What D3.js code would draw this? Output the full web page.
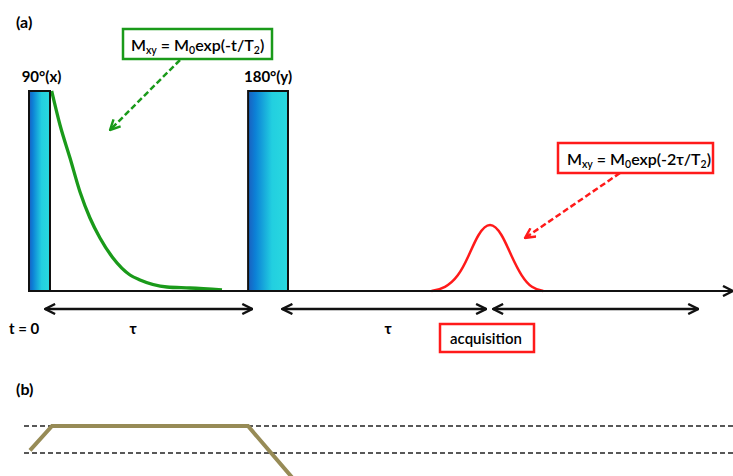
<!DOCTYPE html>
<html><head><meta charset="utf-8">
<script src="https://cdn.jsdelivr.net/npm/d3@7"></script>
<style>html,body{margin:0;padding:0;background:#fff;overflow:hidden}svg{display:block;font-family:Lato,"Open Sans",sans-serif}</style>
</head><body><svg id="c" width="733" height="476"></svg>
<script>
// ---- data (time in arbitrary units, amplitude normalised) ----
const pulseLabels = ["90°(x)", "180°(y)"];
const pulseStart = [0, 31.3];
const pulseEnd = [3, 37];
const fidT = [3.24, 4.43, 5.86, 7.29, 8.71, 10.14, 12, 14.43, 15.86, 19.71, 23, 27.57];
const fidAmp = [1.0, 0.83, 0.665, 0.495, 0.365, 0.265, 0.165, 0.08, 0.055, 0.02, 0.015, 0.005];
const echoT = [57.5, 59.43, 61.33, 62.76, 64.19, 65.86, 67.53, 68.96, 70.39, 71.81, 73.47];
const echoAmp = [0, 0.0135, 0.0715, 0.17, 0.29, 0.35, 0.29, 0.17, 0.0715, 0.0135, 0];
const spanStart = [2.3, 36.2, 66.3];
const spanEnd = [31.9, 65.3, 95.6];
const spanLabels = ["τ", "τ", ""];
const gradT = [0.14, 3.29, 31.29, 37.9];
const gradAmp = [0.1, 1, 1, -1.0];
const gradLevels = [1, 0];

const svg = d3.select("#c");
const x = d3.scaleLinear().domain([0, 100]).range([29, 729]);
const y = d3.scaleLinear().domain([0, 1]).range([291, 91]);
const yb = d3.scaleLinear().domain([0, 1]).range([453, 426]);

const defs = svg.append("defs");
const g = defs.append("linearGradient").attr("id", "pg").attr("x1", 0).attr("x2", 1).attr("y1", 0).attr("y2", 0);
[[0, "#1a5fbf"], [0.18, "#0c80d6"], [0.6, "#22cfe0"], [1, "#2ad9df"]].forEach(s => g.append("stop").attr("offset", s[0]).attr("stop-color", s[1]));
function marker(id, color, size) {
  defs.append("marker").attr("id", id).attr("viewBox", "0 -6 12 12").attr("refX", 11).attr("refY", 0)
    .attr("markerUnits", "userSpaceOnUse").attr("markerWidth", size).attr("markerHeight", size).attr("orient", "auto-start-reverse")
    .append("path").attr("d", "M1,-5L11,0L1,5").attr("fill", "none").attr("stroke", color).attr("stroke-width", 2.4).attr("stroke-linejoin", "miter");
}
marker("ak", "#111", 12);
marker("ag", "#1a9a1a", 12);
marker("ar", "#ff1a1a", 12);

// panel labels
svg.append("text").attr("x", 16).attr("y", 28).attr("font-size", 16).attr("font-weight", 700).text("(a)");
svg.append("text").attr("x", 16).attr("y", 395).attr("font-size", 16).attr("font-weight", 700).text("(b)");

// FID
svg.append("path").datum(fidT.map((t, i) => [t, fidAmp[i]]))
  .attr("d", d3.line().x(d => x(d[0])).y(d => y(d[1])).curve(d3.curveMonotoneX))
  .attr("fill", "none").attr("stroke", "#1a9a1a").attr("stroke-width", 3.3);
// echo
svg.append("path").datum(echoT.map((t, i) => [t, echoAmp[i]]))
  .attr("d", d3.line().x(d => x(d[0])).y(d => y(d[1])).curve(d3.curveBasis))
  .attr("fill", "none").attr("stroke", "#ff1a1a").attr("stroke-width", 2.5);

// axis
svg.append("line").attr("x1", x(0)).attr("x2", 733).attr("y1", y(0)).attr("y2", y(0))
  .attr("stroke", "#111").attr("stroke-width", 2).attr("marker-end", "url(#ak)");

// pulses
pulseLabels.forEach((lab, i) => {
  svg.append("rect").attr("x", x(pulseStart[i])).attr("y", y(1)).attr("width", x(pulseEnd[i]) - x(pulseStart[i]))
    .attr("height", y(0) - y(1)).attr("fill", "url(#pg)").attr("stroke", "#111").attr("stroke-width", 2);
  svg.append("text").attr("x", (x(pulseStart[i]) + x(pulseEnd[i])) / 2 + (i === 0 ? 2 : 0)).attr("y", 82)
    .attr("text-anchor", "middle").attr("font-size", 15).attr("font-weight", 700).text(lab);
});

// spans
spanStart.forEach((s, i) => {
  svg.append("line").attr("x1", x(s)).attr("x2", x(spanEnd[i])).attr("y1", 309).attr("y2", 309)
    .attr("stroke", "#111").attr("stroke-width", 2.4).attr("marker-start", "url(#ak)").attr("marker-end", "url(#ak)");
  if (spanLabels[i]) svg.append("text").attr("x", i === 0 ? 133 : 388).attr("y", 334).attr("text-anchor", "middle")
    .attr("font-size", 15).attr("font-weight", 700).text(spanLabels[i]);
});
svg.append("text").attr("x", 9).attr("y", 334).attr("font-size", 15).attr("font-weight", 700).text("t = 0");

// acquisition box
svg.append("rect").attr("x", 440).attr("y", 324).attr("width", 94).attr("height", 28).attr("fill", "#fff").attr("stroke", "#ff1a1a").attr("stroke-width", 2.5);
svg.append("text").attr("x", 486).attr("y", 344).attr("text-anchor", "middle").attr("font-size", 15).attr("font-weight", 600).text("acquisition");

// equation boxes
function eqBox(x0, y0, w, h, color, parts, tx) {
  svg.append("rect").attr("x", x0).attr("y", y0).attr("width", w).attr("height", h).attr("fill", "#fff").attr("stroke", color).attr("stroke-width", 2.5);
  const t = svg.append("text").attr("x", tx).attr("y", y0 + 22).attr("font-size", 16).attr("font-weight", 600);
  parts.forEach(p => {
    const ts = t.append("tspan").text(p[0]);
    if (p[1]) ts.attr("font-size", 10.5).attr("dy", 3); else ts.attr("dy", p[2] || 0);
  });
}
eqBox(123, 29, 149, 30, "#1a9a1a", [["M"], ["xy", 1], [" = M", 0, -3], ["0", 1], ["exp(-t/T", 0, -3], ["2", 1], [")", 0, -3]], 131);
eqBox(558, 143, 155, 30, "#ff1a1a", [["M"], ["xy", 1], [" = M", 0, -3], ["0", 1], ["exp(-2τ/T", 0, -3], ["2", 1], [")", 0, -3]], 567);

// dashed pointers
svg.append("line").attr("x1", 180).attr("y1", 60).attr("x2", 110).attr("y2", 130).attr("stroke", "#1a9a1a").attr("stroke-width", 2.5)
  .attr("stroke-dasharray", "6,3").attr("marker-end", "url(#ag)");
svg.append("line").attr("x1", 620).attr("y1", 173).attr("x2", 525).attr("y2", 238).attr("stroke", "#ff1a1a").attr("stroke-width", 2.5)
  .attr("stroke-dasharray", "6,3").attr("marker-end", "url(#ar)");

// panel (b)
gradLevels.forEach(l => {
  svg.append("line").attr("x1", 24).attr("x2", 733).attr("y1", yb(l)).attr("y2", yb(l))
    .attr("stroke", "#222").attr("stroke-width", 1.3).attr("stroke-dasharray", "5,3");
});
svg.append("path").datum(gradT.map((t, i) => [t, gradAmp[i]]))
  .attr("d", d3.line().x(d => x(d[0])).y(d => yb(d[1])))
  .attr("fill", "none").attr("stroke", "#978b56").attr("stroke-width", 4);
</script></body></html>
